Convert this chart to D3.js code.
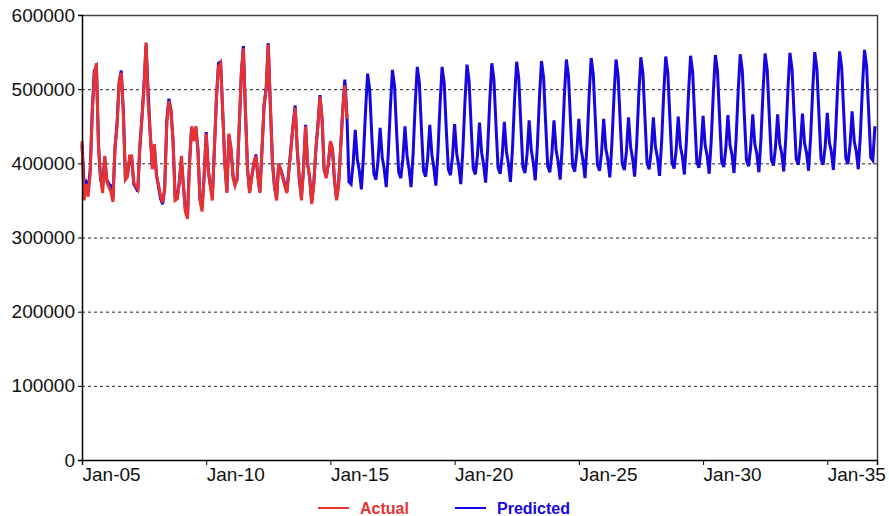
<!DOCTYPE html>
<html>
<head>
<meta charset="utf-8">
<script src="https://cdn.jsdelivr.net/npm/d3@7"></script>
<style>
  body { margin: 0; background: #fff; }
  svg { display: block; font-family: Arial, "Liberation Sans", sans-serif; }
</style>
</head>
<body>
<svg id="chart" width="889" height="516"></svg>
<script>
// monthly values, in thousands, starting Jan-05
var actual = [
  430, 350, 372, 355, 385, 470, 520, 535, 420, 380, 360, 410,
  375, 368, 362, 348, 423, 450, 508, 522, 468, 378, 382, 410,
  410, 374, 370, 365, 423, 460, 500, 563, 480, 440, 392, 426,
  383, 370, 356, 347, 365, 455, 484, 470, 430, 350, 352, 372,
  410, 370, 335, 325, 400, 450, 430, 450, 420, 350, 335, 380,
  440, 390, 370, 350, 420, 490, 530, 535, 470, 400, 360, 440,
  420, 380, 370, 380, 450, 520, 555, 470, 390, 360, 380, 400,
  410, 380, 360, 420, 480, 500, 560, 480, 400, 370, 350, 400,
  390, 380, 370, 360, 390, 420, 450, 475, 420, 380, 350, 390,
  450, 400, 380, 345, 370, 420, 450, 490, 460, 390, 380, 400,
  430, 420, 380, 350, 370, 420, 470, 505, 460
];

var predicted = [
  425, 372, 375, 365, 390, 470, 525, 530, 425, 378, 370, 408,
  378, 372, 370, 352, 420, 455, 510, 525, 470, 380, 385, 405,
  408, 372, 368, 362, 420, 462, 505, 560, 495, 440, 395, 422,
  385, 368, 352, 345, 368, 458, 487, 472, 430, 355, 354, 375,
  405, 368, 337, 330, 402, 448, 435, 448, 418, 352, 340, 382,
  442, 390, 372, 355, 418, 488, 535, 537, 468, 402, 362, 438,
  418, 382, 372, 378, 448, 520, 558, 470, 392, 362, 382, 398,
  412, 382, 362, 420, 478, 502, 562, 478, 402, 368, 352, 398,
  392, 382, 372, 362, 392, 422, 452, 478, 418, 378, 355, 392,
  452, 398, 382, 348, 372, 418, 452, 492, 458, 392, 382, 398,
  428, 418, 378, 352, 372, 422, 472, 513, 465, 375, 372, 400,
  445, 405, 390, 365, 410, 471, 521, 499, 436, 386, 378, 403,
  448, 408, 393, 368, 413, 476, 526, 504, 441, 388, 380, 405,
  450, 410, 393, 368, 413, 480, 530, 508, 445, 390, 382, 407,
  452, 412, 395, 370, 415, 480, 530, 508, 445, 392, 384, 409,
  453, 413, 397, 372, 417, 483, 533, 511, 448, 393, 385, 410,
  455, 415, 399, 374, 419, 485, 535, 513, 450, 394, 386, 411,
  456, 416, 400, 375, 420, 487, 537, 515, 452, 395, 387, 412,
  458, 418, 402, 377, 422, 488, 538, 516, 453, 396, 388, 413,
  458, 418, 403, 378, 423, 490, 540, 518, 455, 397, 389, 414,
  460, 420, 405, 380, 425, 492, 542, 520, 457, 398, 390, 415,
  460, 420, 406, 381, 426, 490, 540, 518, 455, 399, 391, 416,
  462, 422, 407, 382, 427, 493, 543, 521, 458, 400, 392, 417,
  462, 422, 408, 383, 428, 494, 544, 522, 459, 401, 393, 418,
  463, 423, 410, 385, 430, 495, 545, 523, 460, 402, 394, 419,
  464, 424, 411, 386, 431, 496, 546, 524, 461, 403, 395, 420,
  465, 425, 412, 387, 432, 497, 547, 525, 462, 404, 396, 421,
  466, 426, 413, 388, 433, 498, 548, 526, 463, 405, 397, 422,
  466, 426, 414, 389, 434, 499, 549, 527, 464, 406, 398, 423,
  467, 427, 415, 390, 435, 500, 550, 528, 465, 406, 398, 423,
  468, 428, 416, 391, 436, 501, 551, 529, 466, 407, 399, 424,
  470, 430, 417, 392, 437, 503, 553, 531, 468, 408, 404, 450
];

var yTicks = [0, 100000, 200000, 300000, 400000, 500000, 600000];
var xTickYears = [2005, 2010, 2015, 2020, 2025, 2030, 2035];
var seriesNames = ["Actual", "Predicted"];
var seriesColors = ["#e83232", "#1606e0"];

var svg = d3.select("#chart");
var plotL = 82, plotT = 15, plotR = 877, plotB = 460;
var start = new Date(2005, 0, 1);

var x = d3.scaleTime()
  .domain([start, new Date(2037, 0, 1)])
  .range([plotL, plotR]);

var y = d3.scaleLinear()
  .domain([0, 600000])
  .range([plotB, plotT]);

function toPoints(arr) {
  return arr.map(function(v, i) {
    return { date: d3.timeMonth.offset(start, i), value: v * 1000 };
  });
}

// grid
svg.append("g")
  .selectAll("line")
  .data(yTicks.filter(function(d) { return d > 0 && d < 600000; }))
  .enter().append("line")
  .attr("x1", plotL)
  .attr("x2", plotR)
  .attr("y1", function(d) { return y(d) + 0.5; })
  .attr("y2", function(d) { return y(d) + 0.5; })
  .style("stroke", "#222")
  .style("stroke-width", "1px")
  .style("stroke-dasharray", "3,3");

// frame top/right
svg.append("path")
  .attr("d", "M" + plotL + "," + (plotT + 0.5) + "H" + (plotR + 0.5) + "V" + plotB)
  .style("fill", "none")
  .style("stroke", "#444")
  .style("stroke-width", "1.5px");

var line = d3.line()
  .x(function(d) { return x(d.date); })
  .y(function(d) { return y(d.value); });

svg.append("path")
  .datum(toPoints(predicted))
  .attr("d", line)
  .style("fill", "none")
  .style("stroke", seriesColors[1])
  .style("stroke-width", "3px");

svg.append("path")
  .datum(toPoints(actual))
  .attr("d", line)
  .style("fill", "none")
  .style("stroke", seriesColors[0])
  .style("stroke-width", "3px");

// y axis
var yAxis = svg.append("g")
  .attr("transform", "translate(" + plotL + ",0)")
  .call(d3.axisLeft(y).tickValues(yTicks).tickSize(4).tickPadding(3).tickFormat(d3.format("d")));
yAxis.select(".domain").style("stroke", "#000").style("stroke-width", "1.5px");
yAxis.selectAll("text").style("font-size", "19px").style("fill", "#111");

// x axis
var xAxis = svg.append("g")
  .attr("transform", "translate(0," + plotB + ")")
  .call(d3.axisBottom(x)
    .tickValues(xTickYears.map(function(yr) { return new Date(yr, 0, 1); }))
    .tickSize(5)
    .tickFormat(d3.timeFormat("%b-%y")));
xAxis.select(".domain").style("stroke", "#000").style("stroke-width", "1.5px");
xAxis.selectAll("text")
  .style("font-size", "19px")
  .style("fill", "#111")
  .attr("text-anchor", "start")
  .attr("x", 0)
  .attr("y", 8);

// legend
var legend = svg.append("g");
var legendX = [318, 455];
seriesNames.forEach(function(name, i) {
  legend.append("line")
    .attr("x1", legendX[i])
    .attr("x2", legendX[i] + 31)
    .attr("y1", 508)
    .attr("y2", 508)
    .style("stroke", seriesColors[i])
    .style("stroke-width", "2px");
  legend.append("text")
    .attr("x", legendX[i] + 42)
    .attr("y", 514)
    .style("font-size", "16px")
    .style("font-weight", "bold")
    .style("fill", seriesColors[i])
    .text(name);
});
</script>
</body>
</html>
